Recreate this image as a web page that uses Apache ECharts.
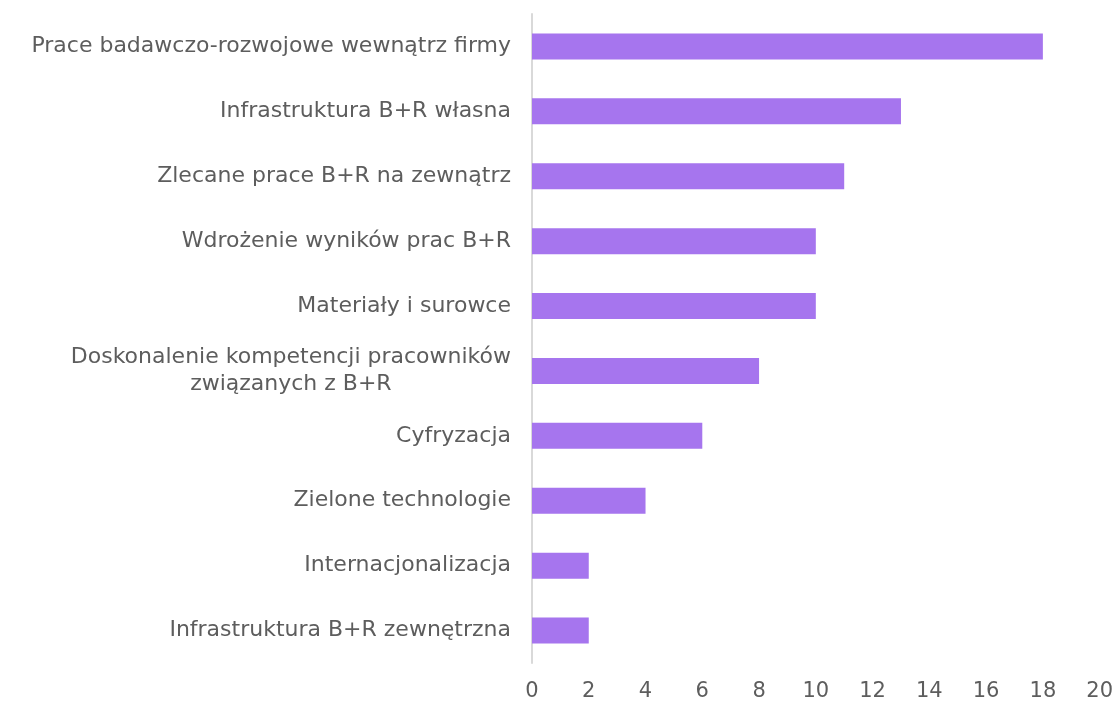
<!DOCTYPE html>
<html>
<head>
<meta charset="utf-8">
<script src="https://cdn.jsdelivr.net/npm/echarts@6/dist/echarts.min.js"></script>
<style>
  html, body { margin: 0; padding: 0; background: #fff; }
  #myChart { width: 1116px; height: 702px; }
</style>
</head>
<body>
<div id="myChart"></div>
<script>
// kategorie od dołu do góry (oś kategorii rośnie w górę)
var categories = [
  'Infrastruktura B+R zewnętrzna',
  'Internacjonalizacja',
  'Zielone technologie',
  'Cyfryzacja',
  'Doskonalenie kompetencji pracowników\nzwiązanych z B+R',
  'Materiały i surowce',
  'Wdrożenie wyników prac B+R',
  'Zlecane prace B+R na zewnątrz',
  'Infrastruktura B+R własna',
  'Prace badawczo-rozwojowe wewnątrz firmy'
]
var values = [2, 2, 4, 6, 8, 10, 10, 11, 13, 18]
var xTicks = [0, 2, 4, 6, 8, 10, 12, 14, 16, 18, 20]

var fontName = 'DejaVu Sans'
var myChart = echarts.init(document.getElementById('myChart'))

var option = {
  backgroundColor: '#fff',
  animation: false,
  textStyle: { fontFamily: fontName },
  grid: {
    left: 532,
    right: 16,
    top: 14,
    bottom: 39,
    containLabel: false
  },
  xAxis: {
    type: 'value',
    min: xTicks[0],
    max: xTicks[xTicks.length - 1],
    interval: 2,
    axisLine: { show: false },
    axisTick: { show: false },
    splitLine: { show: false },
    axisLabel: {
      color: '#5d5d5d',
      fontFamily: fontName,
      fontSize: 21,
      margin: 18
    }
  },
  yAxis: {
    type: 'category',
    data: categories,
    axisLine: { show: true, lineStyle: { color: '#d9d9d9', width: 2 } },
    axisTick: { show: false },
    axisLabel: {
      color: '#5d5d5d',
      fontSize: 22,
      margin: 21,
      lineHeight: 27,
      formatter: function (v) {
        return v.split('\n').map(function (s) { return '{a|' + s + '}' }).join('\n')
      },
      rich: {
        a: { color: '#5d5d5d', fontSize: 22, lineHeight: 27, align: 'center', fontFamily: fontName }
      }
    }
  },
  series: [{
    type: 'bar',
    data: values,
    barWidth: 26,
    itemStyle: { color: '#a675ee' }
  }]
}

myChart.setOption(option)
</script>
</body>
</html>
